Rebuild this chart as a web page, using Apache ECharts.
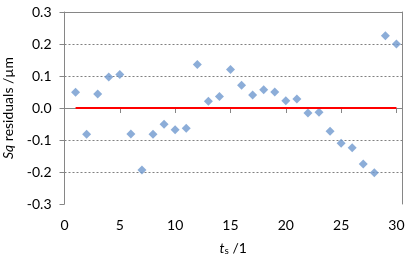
<!DOCTYPE html>
<html><head><meta charset="utf-8">
<script src="https://cdn.jsdelivr.net/npm/echarts@6/dist/echarts.min.js"></script>
<style>html,body{margin:0;padding:0;background:#fff}#c{width:420px;height:258px}</style>
</head><body><div id="c"></div>
<script>
const ts = [1,2,3,4,5,6,7,8,9,10,11,12,13,14,15,16,17,18,19,20,21,22,23,24,25,26,27,28,29,30];
const residuals = [0.049,-0.082,0.044,0.097,0.105,-0.081,-0.194,-0.082,-0.051,-0.068,-0.063,0.136,0.021,0.036,0.120,0.071,0.041,0.057,0.050,0.023,0.028,-0.016,-0.013,-0.073,-0.110,-0.124,-0.175,-0.202,0.226,0.200];
const zeroLineX = [1, 30];
const zeroLineY = [0, 0];
const xTicks = [0,5,10,15,20,25,30];
const yTicks = [-0.3,-0.2,-0.1,0.0,0.1,0.2,0.3];

const font = 'Lato';
const axisGrey = '#868686';
const chart = echarts.init(document.getElementById('c'));
const xRange = {min: 0, max: 30.5, interval: 5};
chart.setOption({
  animation: false,
  textStyle: {fontFamily: font},
  grid: [
    {left: 64.5, top: 12, right: 18, bottom: 54, containLabel: false, outerBoundsMode: 'none'},
    {left: 64.5, top: 12, right: 18, bottom: 150, containLabel: false, outerBoundsMode: 'none'}
  ],
  xAxis: [
    {type: 'value', gridIndex: 0, position: 'bottom', ...xRange,
     axisLine: {show: false, onZero: false}, axisTick: {show: false}, splitLine: {show: false},
     axisLabel: {fontSize: 14, color: '#000', margin: 14, fontFamily: font, showMaxLabel: false,
       formatter: v => xTicks.includes(v) ? String(v) : ''},
     name: '{it|t}{sub|s}{n| /1}', nameLocation: 'middle', nameGap: 36,
     nameTextStyle: {rich: {
       it: {fontStyle: 'italic', fontSize: 14, fontFamily: font, color: '#000'},
       sub: {fontSize: 10, fontFamily: font, color: '#000', verticalAlign: 'bottom', padding: [6,0,0,0]},
       n: {fontSize: 14, fontFamily: font, color: '#000'}}}
    },
    {type: 'value', gridIndex: 0, position: 'top', ...xRange,
     axisLine: {show: true, onZero: false, lineStyle: {color: axisGrey, width: 1}},
     axisTick: {show: false}, axisLabel: {show: false}, splitLine: {show: false}},
    {type: 'value', gridIndex: 1, position: 'bottom', ...xRange,
     axisLine: {show: true, onZero: false, lineStyle: {color: axisGrey, width: 1}},
     axisTick: {show: true, length: 5, lineStyle: {color: axisGrey}},
     axisLabel: {show: false}, splitLine: {show: false}}
  ],
  yAxis: [
    {type: 'value', gridIndex: 0, min: -0.3, max: 0.3, interval: 0.1, position: 'left',
     axisLine: {show: true, onZero: false, lineStyle: {color: axisGrey}},
     axisTick: {show: true, length: 5, lineStyle: {color: axisGrey}},
     axisLabel: {fontSize: 14, color: '#000', margin: 13, fontFamily: font,
       formatter: v => v.toFixed(1)},
     splitLine: {show: true, showMinLine: false, showMaxLine: false,
       lineStyle: {color: '#808080', type: [2, 2], width: 1}},
     name: '{it|Sq}{n| residuals /µm}', nameLocation: 'middle', nameGap: 44, nameRotate: 90,
     nameTextStyle: {rich: {
       it: {fontStyle: 'italic', fontSize: 14, fontFamily: font, color: '#000'},
       n: {fontSize: 14, fontFamily: font, color: '#000'}}}
    },
    {type: 'value', gridIndex: 0, min: -0.3, max: 0.3, interval: 0.1, position: 'right',
     axisLine: {show: true, onZero: false, lineStyle: {color: axisGrey}},
     axisTick: {show: false}, axisLabel: {show: false}, splitLine: {show: false}},
    {type: 'value', gridIndex: 1, min: 0, max: 0.3, show: false}
  ],
  series: [
    {type: 'scatter', xAxisIndex: 0, yAxisIndex: 0, symbol: 'diamond', symbolSize: 9,
     itemStyle: {color: '#6F98CE'}, data: ts.map((t, i) => [t, residuals[i]]), z: 3},
    {type: 'line', xAxisIndex: 0, yAxisIndex: 0, symbol: 'none', silent: true,
     lineStyle: {color: '#FF0000', width: 2}, data: zeroLineX.map((x, i) => [x, zeroLineY[i]]), z: 4}
  ]
});
</script></body></html>
